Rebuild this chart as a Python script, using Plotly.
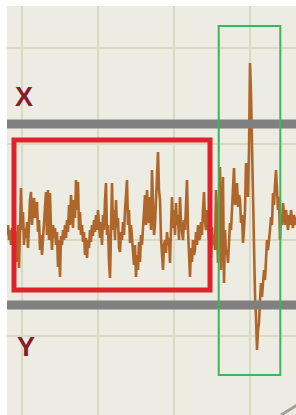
import numpy as np
import plotly.graph_objects as go

# signal amplitude (arbitrary units), one sample per step
amplitude = [
    5, 15, 0, 10, -5, 12, 0, 18, -10, 8, -22, 15, -28, 25, 52, 10, 28, -5, 12, 2,
    18, -8, 22, 40, 48, 15, 35, 42, 22, 30, 38, 8, 20, -10, 5, -15, 2, 12, 25, 48,
    5, 50, 0, 47, 10, -10, 15, 2, 12, -5, 8, -27, 0, -37, 4, -5, 10, 0, 15, 2,
    20, 8, 35, 15, 45, 25, 12, 40, 22, 60, 30, 58, 10, 28, 5, 15, -2, 8, -15, 2,
    -18, 0, -8, 10, -2, 15, 4, 20, 8, 25, 10, 30, 12, 2, 18, -5, 25, 10, 40, 57,
    5, 15, -22, -38, 8, 57, 10, 30, 0, 40, 12, 22, -8, -12, 8, 0, 18, 5, 30, 45,
    60, 15, 30, -3, 15, 2, -15, -25, -5, -37, -15, -30, -2, -22, 5, -5, 12, 30, 45, 15,
    50, 25, 17, 43, 10, 70, 25, 5, 15, 35, 55, 88, 50, 40, 2, -10, -30, -5, 0, -13,
    8, -5, 2, -23, 15, 43, 12, 30, 5, 37, 15, 25, 0, 43, 18, 5, 0, 20, 10, 35,
    60, 10, -15, -37, -8, -22, 0, -15, -10, 8, -5, 15, 0, 2, 18, 5, 30, 48, 20, 10,
    30, 15, 0, 10, -17, 13, -5, 5, -10, 50, 5, -23, 40, 73, -30, 25, 63, -43, 10, -15,
    -10, -23, 0, 17, 10, 30, 50, 72, 35, 45, 57, 33, 45, 40, 17, 25, -3, 10, 30, 77,
    55, 43, 90, 177, 145, 90, 25, -30, -55, -77, -110, -90, -83, -60, -43, -57, -45, -30, -40, -15,
    0, -10, 5, 10, 23, 15, 47, 35, 55, 70, 50, 30, 43, 0, 25, 15, 37, 25, 15, 30,
    20, 10, 25, 15, 30, 20, 12, 25, 17, 15,
]
sample = np.arange(len(amplitude))

band_labels = ["X", "Y"]
band_levels = [116, -65]

BG = "#ECECE2"
GRID = "#D8DAC3"
SIG = "#AE662A"

fig = go.Figure()
fig.add_trace(go.Scatter(x=sample, y=amplitude, mode="lines",
                         line=dict(color=SIG, width=2.6), hoverinfo="skip"))

shapes = []
for lv in band_levels:
    shapes.append(dict(type="line", xref="paper", x0=0, x1=1, yref="y", y0=lv, y1=lv,
                       line=dict(color="#808080", width=9)))
shapes.append(dict(type="rect", xref="x", yref="y", x0=7, x1=203, y0=-50, y1=100,
                   line=dict(color="#E0222A", width=5)))
shapes.append(dict(type="rect", xref="x", yref="y", x0=211.7, x1=273.3, y0=-135, y1=214,
                   line=dict(color="#3DB55A", width=2)))
shapes.append(dict(type="line", xref="x", yref="y", x0=274, x1=292, y0=-175, y1=-164,
                   line=dict(color="#A0A0A0", width=3)))
fig.update_layout(shapes=shapes)

label_pos = [(17, 143), (19, -107)]
for txt, (lx, ly) in zip(band_labels, label_pos):
    fig.add_annotation(x=lx, y=ly, text="<b>%s</b>" % txt, showarrow=False,
                       font=dict(family="Liberation Sans, Arial", size=27, color="#8A1A2C"),
                       xanchor="center", yanchor="middle")

fig.update_xaxes(range=[0, 289], tick0=15, dtick=76, showgrid=True, gridcolor=GRID,
                 gridwidth=2, showticklabels=False, zeroline=False, showline=False, ticks="")
fig.update_yaxes(range=[-175, 234], tick0=0, dtick=96, showgrid=True, gridcolor=GRID,
                 gridwidth=2, showticklabels=False, zeroline=False, showline=False, ticks="")

fig.update_layout(width=296, height=415, margin=dict(l=7, r=0, t=6, b=0, pad=0),
                  paper_bgcolor="white", plot_bgcolor=BG, showlegend=False)

post = ("document.body.style.margin='0';document.body.style.padding='0';"
        "document.body.style.overflow='hidden';"
        "Plotly.relayout('{plot_id}', {width:296, height:415});")
fig.write_html("out.html", config={"displayModeBar": False, "responsive": False},
               default_width="296px", default_height="415px", post_script=post)
